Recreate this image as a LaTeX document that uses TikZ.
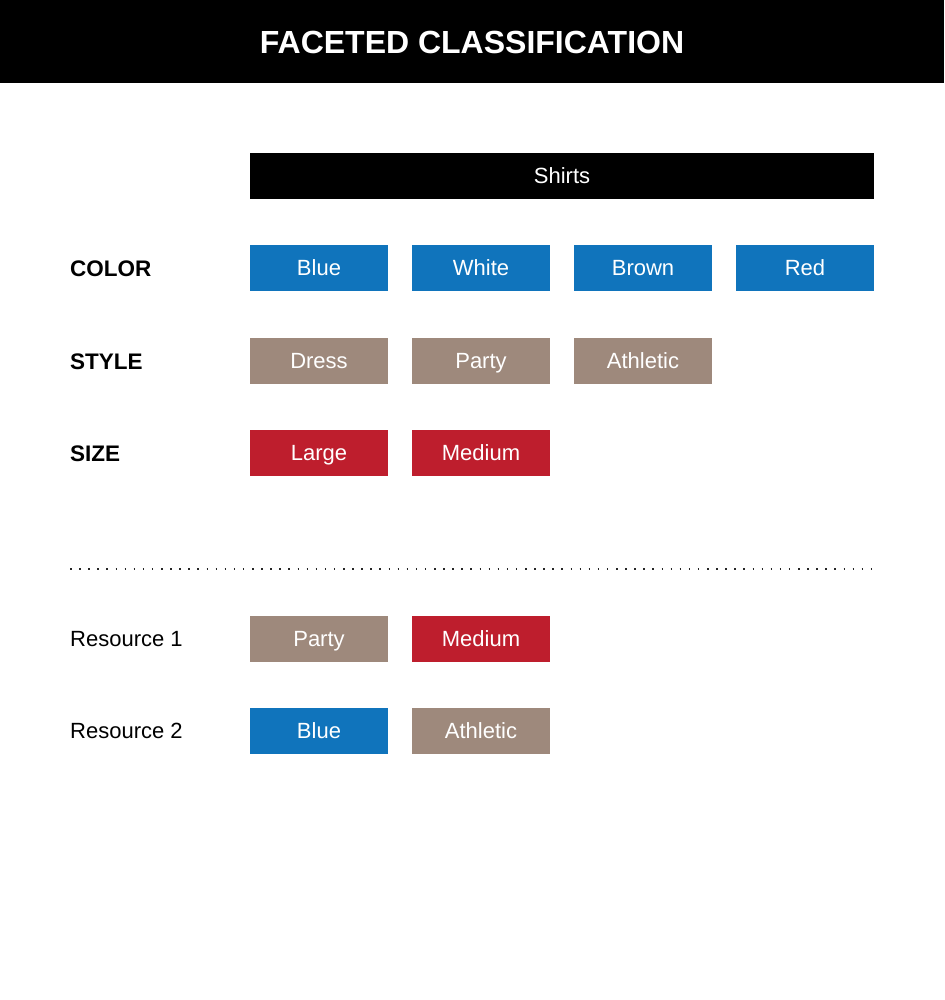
\documentclass[tikz,border=0pt]{standalone}
\usepackage{fontspec}
\setmainfont{Liberation Sans}
\definecolor{facetblue}{RGB}{16,116,188}
\definecolor{facettaupe}{RGB}{158,137,124}
\definecolor{facetred}{RGB}{190,30,45}
\begin{document}
\begin{tikzpicture}[x=1pt,y=-1pt,
  tag/.style={minimum width=138pt,minimum height=46pt,inner sep=0pt,text height=15.8pt,text depth=0pt,text=white,font=\fontsize{22}{24}\selectfont},
  bluetag/.style={tag,fill=facetblue},
  taupetag/.style={tag,fill=facettaupe},
  redtag/.style={tag,fill=facetred},
  facet/.style={anchor=west,inner sep=0pt,text height=16pt,text depth=0pt,font=\fontsize{22.5}{24}\selectfont\bfseries},
  resource/.style={anchor=west,inner sep=0pt,text height=15.8pt,text depth=0pt,font=\fontsize{22}{24}\selectfont}]
\useasboundingbox (0,0) rectangle (944,1000);
\fill[white] (0,0) rectangle (944,1000);
% title bar
\fill[black] (0,0) rectangle (944,83);
\node[text=white,inner sep=0pt,text height=23pt,text depth=0pt,font=\fontsize{32}{34}\selectfont\bfseries] (title) at (472,42) {FACETED CLASSIFICATION};
% root category
\node[tag,fill=black,minimum width=624pt] (shirts) at (562,176) {Shirts};
% facet rows
\node[facet] (color) at (70,268) {COLOR};
\node[bluetag] (blue) at (319,268) {Blue};
\node[bluetag] (white) at (481,268) {White};
\node[bluetag] (brown) at (643,268) {Brown};
\node[bluetag] (red) at (805,268) {Red};
\node[facet] (style) at (70,361) {STYLE};
\node[taupetag] (dress) at (319,361) {Dress};
\node[taupetag] (party) at (481,361) {Party};
\node[taupetag] (athletic) at (643,361) {Athletic};
\node[facet] (size) at (70,453) {SIZE};
\node[redtag] (large) at (319,453) {Large};
\node[redtag] (medium) at (481,453) {Medium};
% separator
\coordinate (sepL) at (70,569);
\coordinate (sepR) at (874,569);
\draw[line width=1.5pt,dash pattern=on 1.5pt off 7.6pt,black!85] (sepL) -- (sepR);
% classified resources
\node[resource] (res1) at (70,639) {Resource 1};
\node[taupetag] (r1party) at (319,639) {Party};
\node[redtag] (r1medium) at (481,639) {Medium};
\node[resource] (res2) at (70,731) {Resource 2};
\node[bluetag] (r2blue) at (319,731) {Blue};
\node[taupetag] (r2athletic) at (481,731) {Athletic};
\end{tikzpicture}
\end{document}
